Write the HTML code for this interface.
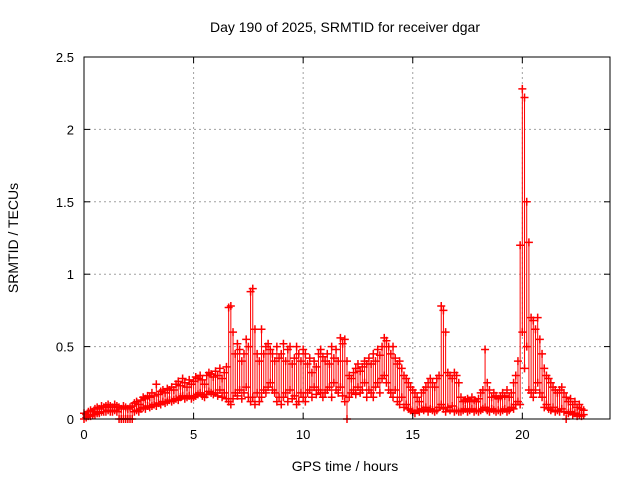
<!DOCTYPE html>
<html><head><meta charset="utf-8"><style>
html,body{margin:0;padding:0;background:#fff;}
svg text{font-family:"Liberation Sans",sans-serif;fill:#000;}
</style></head><body>
<svg id="chart" width="640" height="480" xmlns="http://www.w3.org/2000/svg">
<rect width="640" height="480" fill="#fff"/>
<text x="345" y="32" font-size="14" text-anchor="middle">Day 190 of 2025, SRMTID for receiver dgar</text>
<text x="345" y="471" font-size="14" text-anchor="middle">GPS time / hours</text>
<text x="18" y="238" font-size="14" text-anchor="middle" transform="rotate(-90 18 238)">SRMTID / TECUs</text>
<g id="grid"></g>
<g id="marks"></g>
<rect x="84" y="57" width="526" height="362" fill="none" stroke="#000" stroke-width="1"/>
<g id="axes"></g>
</svg>
<script>
const xTicks=[0,5,10,15,20];
const yTicks=[0,0.5,1,1.5,2,2.5];
const yTickLabels=["0","0.5","1","1.5","2","2.5"];
const tStart=0, tStep=0.1;
const hiVals=[.04,.03,.05,.06,.05,.07,.08,.07,.09,.08,
.09,.10,.09,.08,.10,.09,.08,.07,.09,.08,
.07,.08,.09,.11,.12,.10,.13,.15,.14,.16,
.15,.18,.16,.24,.17,.19,.20,.18,.21,.20,
.22,.20,.24,.26,.23,.28,.25,.22,.27,.24,
.26,.29,.28,.30,.27,.24,.30,.32,.31,.29,
.33,.30,.35,.28,.32,.36,.77,.78,.60,.45,
.52,.48,.40,.45,.55,.50,.88,.90,.62,.45,
.40,.62,.45,.50,.52,.48,.45,.40,.50,.42,
.45,.52,.40,.48,.50,.38,.42,.50,.45,.40,
.48,.45,.38,.42,.32,.40,.36,.45,.48,.43,
.40,.45,.38,.50,.42,.48,.40,.56,.52,.55,
.40,.30,.28,.32,.35,.38,.33,.36,.40,.38,
.42,.38,.45,.40,.48,.44,.50,.56,.54,.50,
.45,.50,.42,.38,.40,.35,.30,.28,.25,.22,
.20,.18,.15,.12,.18,.20,.22,.25,.28,.25,
.22,.28,.30,.78,.75,.60,.32,.30,.28,.32,
.30,.25,.15,.12,.13,.14,.12,.15,.13,.12,
.14,.18,.20,.48,.25,.20,.15,.18,.16,.14,
.15,.18,.16,.20,.15,.18,.25,.30,.40,1.2,
2.28,2.22,1.5,1.22,.70,.68,.62,.70,.55,.45,
.35,.30,.28,.25,.22,.20,.18,.20,.22,.18,
.15,.12,.14,.10,.12,.08,.10,.07,.06];
const loVals=[.00,.01,.02,.02,.03,.03,.04,.04,.05,.05,
.05,.06,.05,.05,.06,.05,.00,.00,.00,.00,
.00,.00,.00,.05,.06,.05,.07,.08,.07,.09,
.08,.09,.10,.09,.11,.10,.12,.11,.12,.13,
.12,.13,.14,.13,.15,.16,.14,.15,.16,.14,
.15,.16,.17,.18,.16,.15,.17,.19,.18,.17,
.18,.16,.20,.15,.18,.14,.12,.10,.14,.18,
.16,.20,.14,.18,.22,.15,.12,.15,.10,.18,
.12,.15,.20,.18,.22,.25,.20,.18,.12,.15,
.10,.15,.18,.12,.20,.14,.16,.10,.12,.18,
.15,.12,.18,.20,.15,.22,.17,.20,.18,.15,
.18,.20,.22,.15,.25,.20,.18,.22,.16,.12,
.00,.15,.18,.20,.17,.22,.18,.20,.25,.15,
.20,.18,.15,.22,.25,.18,.28,.30,.25,.20,
.18,.15,.20,.12,.10,.15,.08,.10,.07,.06,
.05,.04,.06,.05,.07,.06,.08,.05,.07,.06,
.05,.06,.08,.10,.07,.05,.08,.06,.09,.05,
.06,.05,.05,.06,.07,.05,.06,.07,.05,.06,
.05,.06,.07,.08,.06,.05,.07,.06,.05,.06,
.05,.06,.07,.05,.06,.08,.07,.10,.12,.10,
.6,.35,.5,.2,.18,.15,.2,.25,.18,.15,
.08,.10,.07,.06,.08,.05,.06,.05,.07,.05,
.00,.04,.05,.03,.04,.02,.03,.02,.03];
const NS="http://www.w3.org/2000/svg";
const L=84,R=610,T=57,B=419,X0=0,X1=24,Y0=0,Y1=2.5;
function xs(v){return L+(v-X0)/(X1-X0)*(R-L);}
function ys(v){return B-(v-Y0)/(Y1-Y0)*(B-T);}
function mk(tag,attrs,parent){const e=document.createElementNS(NS,tag);for(const k in attrs)e.setAttribute(k,attrs[k]);parent.appendChild(e);return e;}
const grid=document.getElementById('grid'),axes=document.getElementById('axes'),marks=document.getElementById('marks');
xTicks.forEach((v,i)=>{
  const x=xs(v);
  if(i>0){const g=mk('line',{x1:x,y1:T,x2:x,y2:B,stroke:'#a0a0a0','stroke-dasharray':'2,3'},grid);
  
  }
  mk('line',{x1:x,y1:B,x2:x,y2:B-6,stroke:'#000'},axes);
  mk('line',{x1:x,y1:T,x2:x,y2:T+6,stroke:'#000'},axes);
  const t=mk('text',{x:x,y:B+20,'font-size':13,'text-anchor':'middle'},axes);
  t.textContent=v;
  
  
});
yTicks.forEach((v,i)=>{
  const y=ys(v);
  if(i>0&&i<yTicks.length-1){const g=mk('line',{x1:L,y1:y,x2:R,y2:y,stroke:'#a0a0a0','stroke-dasharray':'2,3'},grid);
  
  }
  mk('line',{x1:L,y1:y,x2:L+6,y2:y,stroke:'#000'},axes);
  mk('line',{x1:R,y1:y,x2:R-6,y2:y,stroke:'#000'},axes);
  const t=mk('text',{x:L-10,y:y+5,'font-size':13,'text-anchor':'end'},axes);
  t.textContent=yTickLabels[i];
  
  
});
function plus(x,y,c){
  const p=mk('path',{d:`M${x-4},${y}H${x+4}M${x},${y-4}V${y+4}`,stroke:c,'stroke-width':1.5,fill:'none'},marks);
  
  
}
hiVals.forEach((h,i)=>{
  const t=tStart+i*tStep,x=xs(t),yh=ys(h),yl=ys(loVals[i]);
  const ln=mk('line',{x1:x,y1:yl,x2:x,y2:yh,stroke:'#ff0000','stroke-width':1},marks);
  
  
  plus(x,yh,'#ff0000');
  plus(x,yl,'#ff0000');
});
</script>
</body></html>
